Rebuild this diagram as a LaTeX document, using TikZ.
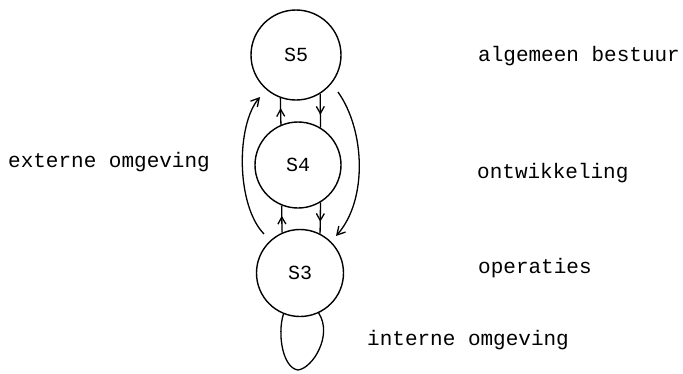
\documentclass[tikz,border=0pt]{standalone}
\usepackage{fontspec}
\setmainfont{Liberation Mono}
\usetikzlibrary{arrows.meta,decorations.markings}
\tikzset{
  sys/.style={circle, draw, line width=1.4pt, minimum size=88pt, inner sep=0pt, font=\fontsize{20}{24}\selectfont},
  lbl/.style={anchor=base west, inner sep=0pt, font=\fontsize{21}{25}\selectfont},
  conn/.style={line width=1.3pt},
  tip/.style={-{Straight Barb[length=8pt,width=9pt,line width=1.3pt]}},
  midarrow/.style={postaction={decorate}, decoration={markings, mark=at position 0.62 with {\arrow{Straight Barb[length=7pt,width=8pt,line width=1.3pt]}}}}
}
\begin{document}
\begin{tikzpicture}[x=1pt,y=-1pt]
\useasboundingbox (0,0) rectangle (683,373);
\node[sys, minimum size=90pt] (s5) at (296,55) {S5};
\node[sys, minimum size=86pt] (s4) at (298,165) {S4};
\node[sys, minimum size=87pt] (s3) at (300,273) {S3};

\node[lbl] (t5) at (478,61) {algemeen bestuur};
\node[lbl] (t4) at (477,178) {ontwikkeling};
\node[lbl] (t3) at (478,273) {operaties};
\node[lbl] (ti) at (367,345) {interne omgeving};
\node[lbl] (te) at (8,167) {externe omgeving};

% short connectors
\draw[conn, midarrow] (s4.113) -- (s5.250);
\draw[conn, midarrow] (s5.302) -- (s4.59);
\draw[conn, midarrow] (s3.114) -- (s4.248);
\draw[conn, midarrow] (s4.301) -- (s3.63);

% long arcs
\coordinate (la) at (264,234);
\coordinate (lb) at (260,97);
\coordinate (ra) at (338,92);
\coordinate (rb) at (336,236);
\draw[conn, tip] (la) .. controls (236,205) and (236,125) .. (lb);
\draw[conn, tip] (ra) .. controls (365,130) and (368,200) .. (rb);

% loop
\draw[conn] (s3.248) .. controls (277,335) and (283,368) .. (298,370)
  .. controls (313,368) and (333,335) .. (s3.295);
\end{tikzpicture}
\end{document}
